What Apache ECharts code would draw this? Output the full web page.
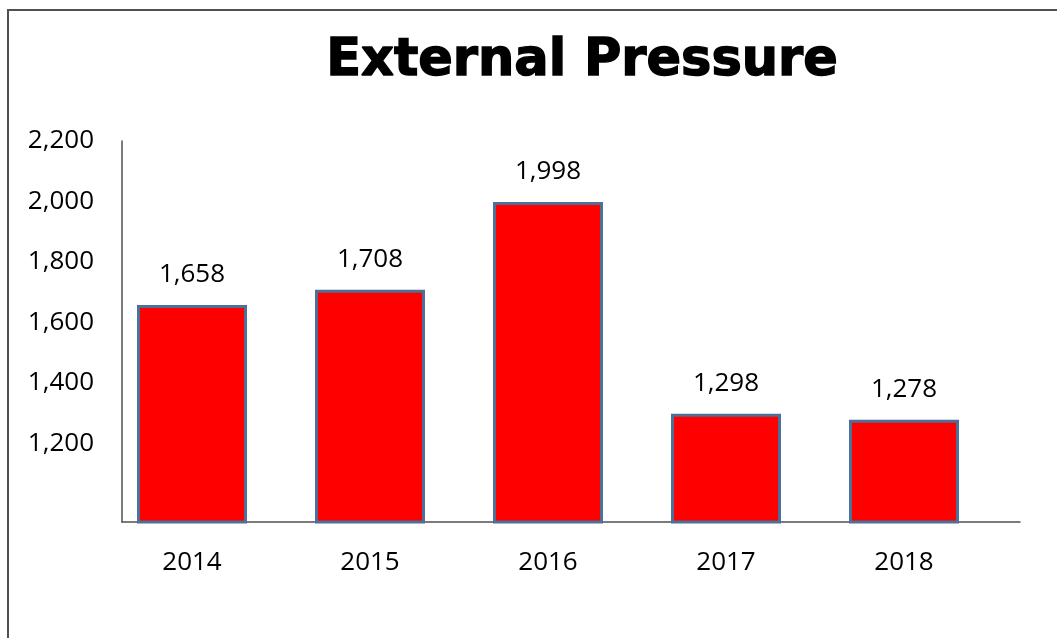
<!DOCTYPE html>
<html>
<head>
<meta charset="utf-8">
<title>External Pressure</title>
<script src="https://cdn.jsdelivr.net/npm/echarts@6/dist/echarts.min.js"></script>
<style>
  html, body { margin: 0; padding: 0; background: #fff; }
  #wrap { position: relative; width: 1057px; height: 638px; overflow: hidden; }
  #frame { position: absolute; left: 7px; top: 9px; width: 1100px; height: 700px;
           border-left: 2px solid #505050; border-top: 2px solid #505050; box-sizing: border-box; }
  #chart { position: absolute; left: 0; top: 0; width: 1057px; height: 638px; }
</style>
</head>
<body>
<div id="wrap">
  <div id="frame"></div>
  <div id="chart"></div>
</div>
<script>
// Yearly values shown above each bar
const years = ['2014', '2015', '2016', '2017', '2018'];
const pressure = [1658, 1708, 1998, 1298, 1278];
// Labelled ticks on the value axis
const yTicks = [1200, 1400, 1600, 1800, 2000, 2200];

const yMin = 940;
const yMax = 2200;
const textFont = '"Open Sans", "Liberation Sans", sans-serif';
const lineColor = '#505050';

const chart = echarts.init(document.getElementById('chart'), null, { renderer: 'canvas' });

chart.setOption({
  backgroundColor: 'transparent',
  animation: false,
  title: {
    text: 'External Pressure',
    left: 577,
    top: 31,
    textAlign: 'center',
    textStyle: {
      fontFamily: '"DejaVu Sans", "Liberation Sans", sans-serif',
      fontWeight: 'bold',
      fontSize: 51,
      color: '#000',
      textBorderColor: '#000',
      textBorderWidth: 1.4
    }
  },
  grid: [
    // bars and year labels
    { left: 103, width: 890, top: 141, bottom: 116 },
    // visible axis lines and value labels
    { left: 122, right: 37, top: 141, bottom: 116 }
  ],
  xAxis: [
    {
      type: 'category',
      gridIndex: 0,
      data: years,
      axisLine: { show: false },
      axisTick: { show: false },
      axisLabel: { margin: 28, fontFamily: textFont, fontSize: 26, color: '#000' }
    },
    {
      type: 'value',
      gridIndex: 1,
      min: 0,
      max: 1,
      axisLine: { show: true, lineStyle: { color: lineColor, width: 1.5 } },
      axisTick: { show: false },
      axisLabel: { show: false },
      splitLine: { show: false }
    }
  ],
  yAxis: [
    {
      type: 'value',
      gridIndex: 0,
      min: yMin,
      max: yMax,
      show: false,
      splitLine: { show: false }
    },
    {
      type: 'value',
      gridIndex: 1,
      min: yMin,
      max: yMax,
      axisLine: { show: true, lineStyle: { color: lineColor, width: 1.5 } },
      axisTick: { show: false },
      splitLine: { show: false },
      axisLabel: {
        customValues: yTicks,
        margin: 28,
        fontFamily: textFont,
        fontSize: 26,
        color: '#000',
        formatter: v => v.toLocaleString('en-US')
      }
    }
  ],
  series: [
    {
      type: 'bar',
      xAxisIndex: 0,
      yAxisIndex: 0,
      data: pressure,
      barWidth: 110,
      itemStyle: {
        color: '#ff0000',
        borderColor: '#4d6f98',
        borderWidth: 3
      },
      label: {
        show: true,
        position: 'top',
        distance: 17,
        fontFamily: textFont,
        fontSize: 26,
        color: '#000',
        formatter: p => p.value.toLocaleString('en-US')
      }
    }
  ]
});
</script>
</body>
</html>
